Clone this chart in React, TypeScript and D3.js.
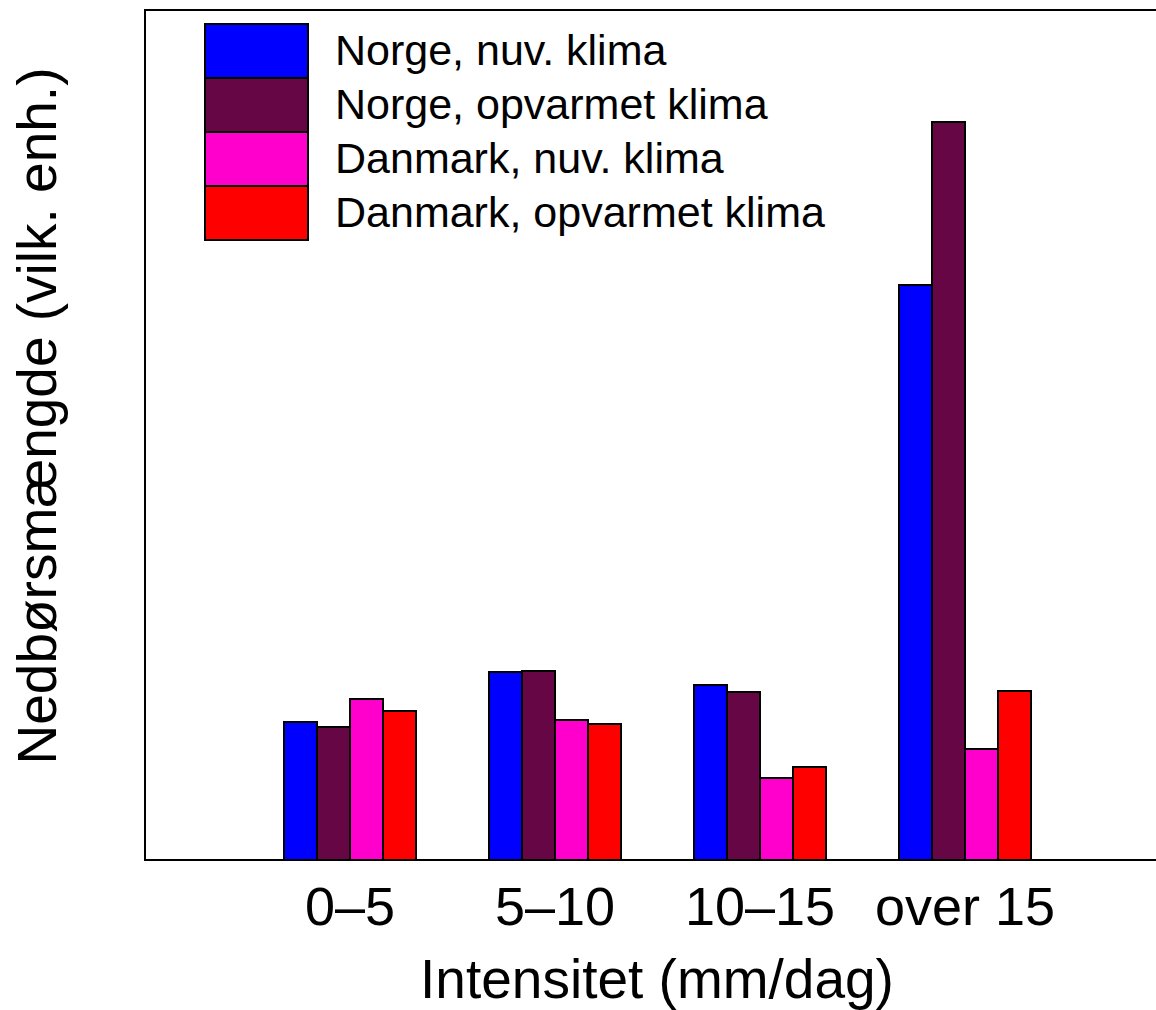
import React, { useEffect, useRef } from 'react'
import * as d3 from 'd3'

// data
const categories = ['0–5', '5–10', '10–15', 'over 15']
const seriesNames = [
  'Norge, nuv. klima',
  'Norge, opvarmet klima',
  'Danmark, nuv. klima',
  'Danmark, opvarmet klima',
]
const seriesColors = ['#0000ff', '#660645', '#ff00cc', '#ff0000']
const norgeNuv = [13.8, 18.8, 17.5, 57.5]
const norgeOpv = [13.3, 18.9, 16.8, 73.8]
const danmarkNuv = [16.1, 14.0, 8.2, 11.1]
const danmarkOpv = [14.9, 13.6, 9.3, 16.9]
const seriesValues = [norgeNuv, norgeOpv, danmarkNuv, danmarkOpv]

const W = 1156
const H = 1010
const FONT = '"Liberation Sans", Arial, Helvetica, sans-serif'

const App: React.FC = () => {
  const svgRef = useRef<SVGSVGElement>(null)

  useEffect(() => {
    const svg = d3.select(svgRef.current)
    svg.selectAll('*').remove()

    const left = 145
    const top = 10
    const bottom = 860
    const step = 205
    const right = left + step * (categories.length + 1)

    const x = d3.scaleBand<string>()
      .domain(categories)
      .range([left + step / 2, right - step / 2])
      .paddingInner(0)

    const inner = d3.scaleBand<number>()
      .domain(d3.range(seriesNames.length))
      .range([0, 132])

    const y = d3.scaleLinear().domain([0, 85]).range([bottom, top])

    // bars
    seriesValues.forEach((vals, si) => {
      svg.append('g')
        .selectAll('rect')
        .data(vals)
        .enter()
        .append('rect')
        .attr('x', (_, i) => (x(categories[i]) || 0) + (x.bandwidth() - 132) / 2 + (inner(si) || 0))
        .attr('y', d => y(d))
        .attr('width', inner.bandwidth())
        .attr('height', d => bottom - y(d))
        .attr('fill', seriesColors[si])
        .attr('stroke', '#000')
        .attr('stroke-width', 2)
    })

    // frame
    svg.append('rect')
      .attr('x', left)
      .attr('y', top)
      .attr('width', right - left)
      .attr('height', bottom - top)
      .attr('fill', 'none')
      .attr('stroke', '#000')
      .attr('stroke-width', 2)

    // x tick labels
    const xAxis = svg.append('g')
      .attr('transform', `translate(0,${bottom})`)
      .call(d3.axisBottom(x).tickSize(0).tickPadding(0))
    xAxis.select('.domain').remove()
    xAxis.selectAll('text')
      .attr('y', 65)
      .attr('dy', null)
      .attr('font-family', FONT)
      .attr('font-size', 54)
      .attr('fill', '#000')

    // axis titles
    svg.append('text')
      .attr('x', 657)
      .attr('y', 998)
      .attr('text-anchor', 'middle')
      .attr('font-family', FONT)
      .attr('font-size', 55)
      .text('Intensitet (mm/dag)')

    svg.append('text')
      .attr('transform', `translate(56,${416}) rotate(-90)`)
      .attr('text-anchor', 'middle')
      .attr('font-family', FONT)
      .attr('font-size', 55)
      .text('Nedbørsmængde (vilk. enh.)')

    // legend
    const legend = svg.append('g').attr('transform', 'translate(205,24)')
    seriesNames.forEach((name, i) => {
      legend.append('rect')
        .attr('x', 0)
        .attr('y', i * 54)
        .attr('width', 103)
        .attr('height', 54)
        .attr('fill', seriesColors[i])
        .attr('stroke', '#000')
        .attr('stroke-width', 2)
      legend.append('text')
        .attr('x', 130)
        .attr('y', i * 54 + 41)
        .attr('font-family', FONT)
        .attr('font-size', 43)
        .text(name)
    })
  }, [])

  return (
    <svg
      ref={svgRef}
      width={W}
      height={H}
      style={{ position: 'absolute', left: 0, top: 0, background: '#fff' }}
    />
  )
}

export default App
